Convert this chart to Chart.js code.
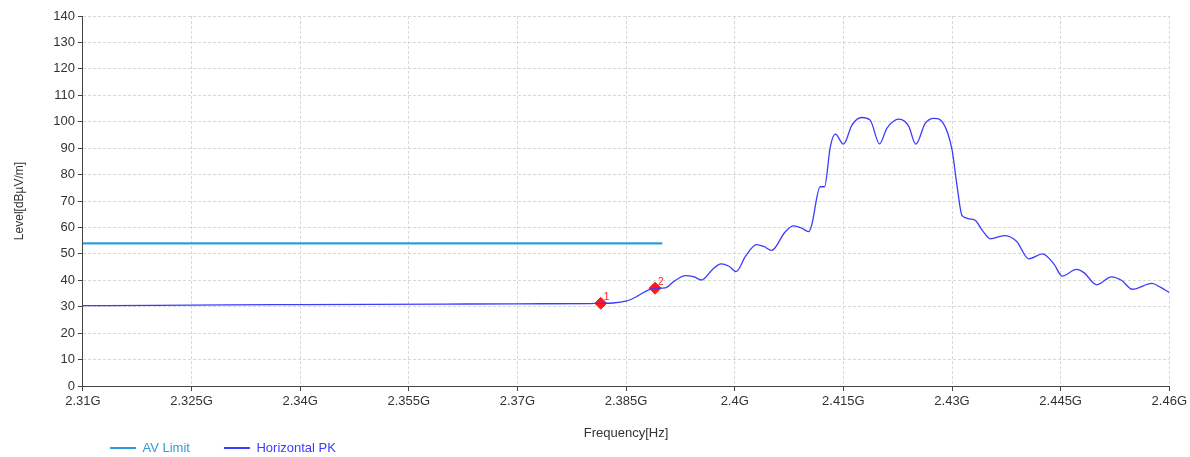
<!DOCTYPE html>
<html>
<head>
<meta charset="utf-8">
<script src="https://cdn.jsdelivr.net/npm/chart.js@4.4.1/dist/chart.umd.min.js"></script>
<style>
  html, body { margin: 0; padding: 0; background: #ffffff; }
  #wrap { width: 1190px; height: 457px; position: relative; }
</style>
</head>
<body>
<div id="wrap"><canvas id="c"></canvas></div>
<script>
// ---- data ----
const seriesNames = ['AV Limit', 'Horizontal PK'];

const limitFreqs = [2.31, 2.39];        // GHz
const limitLevels = [54, 54];           // dBµV/m

const pkFreqs = [
  2.31, 2.32, 2.33, 2.34, 2.35, 2.36, 2.37, 2.38, 2.3815, 2.3832,
  2.3851, 2.3865, 2.3879, 2.389, 2.3904, 2.3916, 2.3932, 2.3944, 2.3954, 2.3969,
  2.3981, 2.3992, 2.4002, 2.4015, 2.4030, 2.4040, 2.4051, 2.4069, 2.4081, 2.4092,
  2.4102, 2.4106, 2.4118, 2.4124, 2.4132, 2.4139, 2.4150, 2.4162, 2.4175, 2.4187,
  2.4200, 2.4210, 2.4227, 2.4240, 2.4250, 2.4263, 2.4275, 2.4288, 2.4300, 2.4307,
  2.4314, 2.4331, 2.4342, 2.4353, 2.4372, 2.4389, 2.4406, 2.4425, 2.4441, 2.4452,
  2.4472, 2.4482, 2.4500, 2.4520, 2.4534, 2.4549, 2.4576, 2.4588, 2.46
];
const pkLevels = [
  30.4, 30.5, 30.7, 30.8, 30.9, 31.0, 31.1, 31.2, 31.3, 31.4,
  32.2, 33.9, 36.1, 37.0, 37.1, 39.6, 41.8, 41.3, 40.1, 44.0,
  46.2, 45.3, 43.3, 49.1, 53.5, 52.8, 51.3, 58.1, 60.6, 59.8,
  58.4, 60.6, 75.4, 75.4, 90.6, 95.3, 91.5, 98.8, 101.6, 100.6,
  91.6, 97.5, 101.0, 98.4, 91.5, 99.4, 101.3, 99.4, 89.4, 75.6,
  64.4, 62.9, 58.8, 55.7, 56.9, 54.8, 48.1, 50.0, 46.0, 41.6,
  44.1, 42.9, 38.3, 41.3, 40.0, 36.6, 38.8, 37.3, 35.4
];

const markerFreqs = [2.3815, 2.389];
const markerLevels = [31.3, 37.0];
const markerLabels = ['1', '2'];

const xTickValues = [2.31, 2.325, 2.34, 2.355, 2.37, 2.385, 2.4, 2.415, 2.43, 2.445, 2.46];
const xTickLabels = ['2.31G', '2.325G', '2.34G', '2.355G', '2.37G', '2.385G', '2.4G', '2.415G', '2.43G', '2.445G', '2.46G'];

// ---- styles ----
const COLOR_LIMIT = '#2f9ddc';
const COLOR_PK = '#3c3cff';
const COLOR_MARK = '#ff1a1a';
const TEXT = '#333333';
const FONT = "'Liberation Sans', Arial, sans-serif";

const toXY = (xs, ys) => xs.map((x, i) => ({ x: x, y: ys[i] }));

const markerLabelPlugin = {
  id: 'markerLabels',
  afterDatasetsDraw(chart) {
    const ctx = chart.ctx;
    const xs = chart.scales.x, ys = chart.scales.y;
    ctx.save();
    ctx.fillStyle = COLOR_MARK;
    ctx.font = "10px " + FONT;
    ctx.textBaseline = 'alphabetic';
    markerFreqs.forEach((f, i) => {
      const px = xs.getPixelForValue(f);
      const py = ys.getPixelForValue(markerLevels[i]);
      ctx.fillText(markerLabels[i], px + 3, py - 3);
    });
    ctx.restore();
  }
};

const legendShiftPlugin = {
  id: 'legendShift',
  afterLayout(chart) {
    const lg = chart.legend;
    if (!lg) return;
    lg.left += 76;
    lg.top -= 35.5;
  }
};

new Chart(document.getElementById('c'), {
  type: 'line',
  data: {
    datasets: [
      {
        label: seriesNames[0],
        data: toXY(limitFreqs, limitLevels),
        borderColor: COLOR_LIMIT,
        backgroundColor: COLOR_LIMIT,
        borderWidth: 2.2,
        pointRadius: 0,
        tension: 0
      },
      {
        label: seriesNames[1],
        data: toXY(pkFreqs, pkLevels),
        borderColor: COLOR_PK,
        backgroundColor: COLOR_PK,
        borderWidth: 1.3,
        pointRadius: 0,
        cubicInterpolationMode: 'monotone'
      },
      {
        label: 'markers',
        data: toXY(markerFreqs, markerLevels),
        showLine: false,
        pointStyle: 'rectRot',
        pointRadius: 6,
        pointBackgroundColor: COLOR_MARK,
        pointBorderColor: COLOR_MARK,
        pointBorderWidth: 1
      }
    ]
  },
  options: {
    responsive: true,
    maintainAspectRatio: false,
    animation: false,
    layout: { padding: { top: 16, right: 18, left: 0, bottom: 0 } },
    plugins: {
      tooltip: { enabled: false },
      legend: {
        position: 'bottom',
        align: 'start',
        maxHeight: 14,
        labels: {
          boxWidth: 26,
          boxHeight: 2,
          padding: 34,
          font: { family: FONT, size: 13 },
          generateLabels(chart) {
            return chart.data.datasets.slice(0, 2).map((ds, i) => ({
              text: ds.label,
              fillStyle: ds.borderColor,
              strokeStyle: ds.borderColor,
              lineWidth: 0,
              fontColor: ds.borderColor,
              hidden: false,
              datasetIndex: i
            }));
          }
        }
      }
    },
    scales: {
      x: {
        type: 'linear',
        min: 2.31,
        max: 2.46,
        afterBuildTicks(axis) {
          axis.ticks = xTickValues.map(v => ({ value: v }));
        },
        ticks: {
          color: TEXT,
          font: { family: FONT, size: 13 },
          padding: 3,
          maxRotation: 0,
          autoSkip: false,
          callback: (v, i) => xTickLabels[i]
        },
        grid: { color: '#d8d8d8', tickColor: '#444', tickLength: 5, tickBorderDash: [] },
        border: { display: true, color: '#444', width: 1, dash: [3, 2] },
        title: {
          display: true,
          text: 'Frequency[Hz]',
          color: TEXT,
          font: { family: FONT, size: 13 },
          padding: { top: 12.6, bottom: 2.2 }
        }
      },
      y: {
        min: 0,
        max: 140,
        ticks: {
          stepSize: 10,
          color: TEXT,
          font: { family: FONT, size: 13 },
          padding: 3
        },
        grid: { color: '#d8d8d8', tickColor: '#444', tickLength: 5, tickBorderDash: [] },
        border: { display: true, color: '#444', width: 1, dash: [3, 2] },
        title: {
          display: true,
          text: 'Level[dBµV/m]',
          color: TEXT,
          font: { family: FONT, size: 12 },
          padding: { top: 12.8, bottom: 23 }
        }
      }
    }
  },
  plugins: [markerLabelPlugin, legendShiftPlugin]
});
</script>
</body>
</html>
